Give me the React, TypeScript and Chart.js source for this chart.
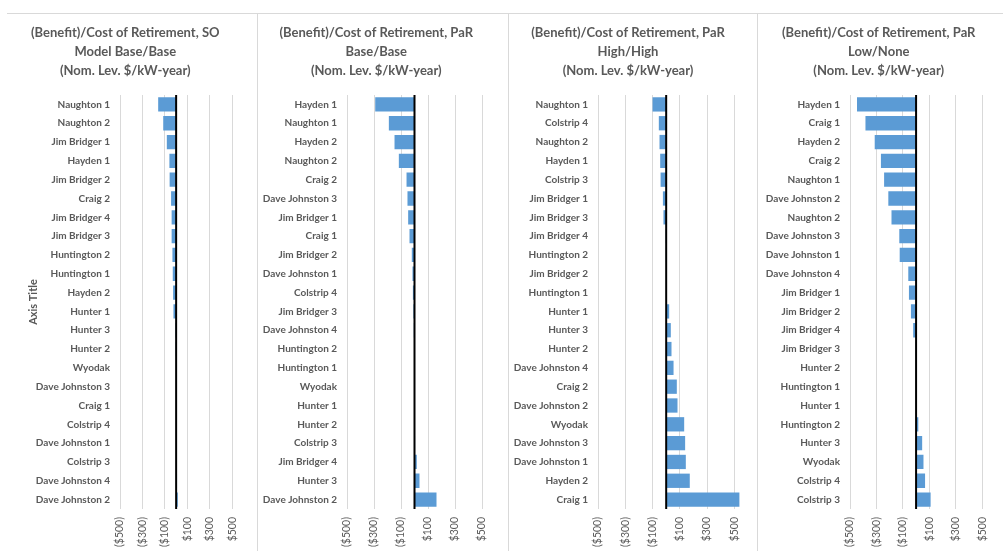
import React, { useEffect, useRef } from "react";
import { Chart, registerables } from "chart.js";

Chart.register(...registerables);

// ---------- Data ----------
const soCategories = [
  "Naughton 1", "Naughton 2", "Jim Bridger 1", "Hayden 1", "Jim Bridger 2", "Craig 2",
  "Jim Bridger 4", "Jim Bridger 3", "Huntington 2", "Huntington 1", "Hayden 2", "Hunter 1",
  "Hunter 3", "Hunter 2", "Wyodak", "Dave Johnston 3", "Craig 1", "Colstrip 4",
  "Dave Johnston 1", "Colstrip 3", "Dave Johnston 4", "Dave Johnston 2",
];
const soValues = [-160, -115, -83, -60, -58, -45, -40, -40, -33, -30, -27, -24, -5, -3, -1, 1, 2, 3, 5, 6, 8, 15];

const baseCategories = [
  "Hayden 1", "Naughton 1", "Hayden 2", "Naughton 2", "Craig 2", "Dave Johnston 3",
  "Jim Bridger 1", "Craig 1", "Jim Bridger 2", "Dave Johnston 1", "Colstrip 4", "Jim Bridger 3",
  "Dave Johnston 4", "Huntington 2", "Huntington 1", "Wyodak", "Hunter 1", "Hunter 2",
  "Colstrip 3", "Jim Bridger 4", "Hunter 3", "Dave Johnston 2",
];
const baseValues = [-291, -190, -148, -116, -59, -52, -47, -37, -20, -15, -12, -8, -5, -3, -2, 0, 1, 2, 4, 17, 37, 163];

const highCategories = [
  "Naughton 1", "Colstrip 4", "Naughton 2", "Hayden 1", "Colstrip 3", "Jim Bridger 1",
  "Jim Bridger 3", "Jim Bridger 4", "Huntington 2", "Jim Bridger 2", "Huntington 1", "Hunter 1",
  "Hunter 3", "Hunter 2", "Dave Johnston 4", "Craig 2", "Dave Johnston 2", "Wyodak",
  "Dave Johnston 3", "Dave Johnston 1", "Hayden 2", "Craig 1",
];
const highValues = [-100, -54, -49, -44, -41, -24, -20, -3, -2, 0, 2, 22, 34, 39, 54, 78, 83, 132, 139, 144, 173, 537];

const lowCategories = [
  "Hayden 1", "Craig 1", "Hayden 2", "Craig 2", "Naughton 1", "Dave Johnston 2",
  "Naughton 2", "Dave Johnston 3", "Dave Johnston 1", "Dave Johnston 4", "Jim Bridger 1", "Jim Bridger 2",
  "Jim Bridger 4", "Jim Bridger 3", "Hunter 2", "Huntington 1", "Hunter 1", "Huntington 2",
  "Hunter 3", "Wyodak", "Colstrip 4", "Colstrip 3",
];
const lowValues = [-447, -383, -313, -266, -242, -210, -186, -127, -124, -59, -54, -39, -22, -2, 0, 1, 2, 17, 46, 56, 68, 110];

const xTickValues = [-500, -300, -100, 100, 300, 500];
const xMin = -500;
const xMax = 600;

const titleSO = ["(Benefit)/Cost of Retirement, SO", "Model Base/Base", "(Nom. Lev. $/kW-year)"];
const titleBase = ["(Benefit)/Cost of Retirement, PaR", "Base/Base", "(Nom. Lev. $/kW-year)"];
const titleHigh = ["(Benefit)/Cost of Retirement, PaR", "High/High", "(Nom. Lev. $/kW-year)"];
const titleLow = ["(Benefit)/Cost of Retirement, PaR", "Low/None", "(Nom. Lev. $/kW-year)"];
const axisTitleText = "Axis Title";

// ---------- Styling ----------
const FONT = "Lato, 'Open Sans', sans-serif";
const TEXT = "#595959";
const BAR = "#5B9BD5";
const GRID = "#d9d9d9";
const PANEL_TOP = 13;
const PANEL_H = 551 - PANEL_TOP;

const fmtMoney = (v: number) => (v < 0 ? `($${Math.abs(v)})` : `$${v}`);

const zeroLinePlugin = {
  id: "zeroLine",
  afterDatasetsDraw(chart: any) {
    const xs = chart.scales.x;
    const { top, bottom } = chart.chartArea;
    const x = xs.getPixelForValue(0);
    const ctx = chart.ctx;
    ctx.save();
    ctx.strokeStyle = "#000";
    ctx.lineWidth = 2;
    ctx.beginPath();
    ctx.moveTo(x, top);
    ctx.lineTo(x, bottom);
    ctx.stroke();
    ctx.restore();
  },
};

type PanelProps = {
  left: number;
  width: number;
  plotLeft: number;
  padRight: number;
  title: string[];
  categories: string[];
  values: number[];
  axisTitle?: boolean;
};

function Panel({ left, width, plotLeft, padRight, title, categories, values, axisTitle }: PanelProps) {
  const ref = useRef<HTMLCanvasElement | null>(null);
  useEffect(() => {
    if (!ref.current) return;
    const chart = new Chart(ref.current, {
      type: "bar",
      data: {
        labels: categories,
        datasets: [
          {
            data: values,
            backgroundColor: BAR,
            borderWidth: 0,
            barPercentage: 0.76,
            categoryPercentage: 1,
          },
        ],
      },
      plugins: [zeroLinePlugin],
      options: {
        indexAxis: "y",
        responsive: false,
        animation: false,
        layout: { padding: { left: 0, right: padRight, top: 0, bottom: 0 } },
        plugins: {
          legend: { display: false },
          tooltip: { enabled: false },
          title: {
            display: true,
            text: title,
            color: TEXT,
            font: { family: FONT, size: 13, weight: "bold", lineHeight: "19px" },
            padding: { top: 10, bottom: 15 },
          },
        },
        scales: {
          x: {
            type: "linear",
            min: xMin,
            max: xMax,
            afterBuildTicks: (scale: any) => {
              scale.ticks = xTickValues.map((v) => ({ value: v }));
            },
            afterFit: (scale: any) => {
              scale.height = 42;
            },
            grid: { color: GRID, lineWidth: 1, drawTicks: false },
            border: { display: false },
            ticks: {
              color: TEXT,
              font: { family: FONT, size: 10.5 },
              padding: 8,
              minRotation: 90,
              maxRotation: 90,
              autoSkip: false,
              callback: (v: any) => fmtMoney(Number(v)),
            },
          },
          y: {
            type: "category",
            grid: { display: false, drawTicks: false },
            border: { display: false },
            afterFit: (scale: any) => {
              scale.width = plotLeft;
            },
            ticks: {
              color: TEXT,
              font: { family: FONT, size: 10, weight: "bold" },
              padding: 10,
              autoSkip: false,
            },
            title: {
              display: !!axisTitle,
              text: axisTitleText,
              color: TEXT,
              font: { family: FONT, size: 11, weight: "bold" },
              padding: { top: 19.4, bottom: 0 },
            },
          },
        },
      },
    } as any);
    return () => chart.destroy();
  }, []);
  return (
    <canvas
      ref={ref}
      width={width}
      height={PANEL_H}
      style={{ position: "absolute", left, top: PANEL_TOP, width, height: PANEL_H }}
    />
  );
}

const separators = [257, 508, 757];

export default function App() {
  return (
    <div
      style={{
        position: "absolute",
        left: 0,
        top: 0,
        width: 1003,
        height: 551,
        overflow: "hidden",
        background: "#fff",
      }}
    >
      <Panel left={7} width={250} plotLeft={113} padRight={13.5} title={titleSO} categories={soCategories} values={soValues} axisTitle />
      <Panel left={257} width={251} plotLeft={90} padRight={12.5} title={titleBase} categories={baseCategories} values={baseValues} />
      <Panel left={508} width={249} plotLeft={90} padRight={9} title={titleHigh} categories={highCategories} values={highValues} />
      <Panel left={757} width={246} plotLeft={93} padRight={2.6} title={titleLow} categories={lowCategories} values={lowValues} />
      <div style={{ position: "absolute", left: 7, top: PANEL_TOP, width: 996, height: 1, background: GRID }} />
      {separators.map((x) => (
        <div key={x} style={{ position: "absolute", left: x, top: PANEL_TOP, width: 1, height: PANEL_H, background: GRID }} />
      ))}
    </div>
  );
}
